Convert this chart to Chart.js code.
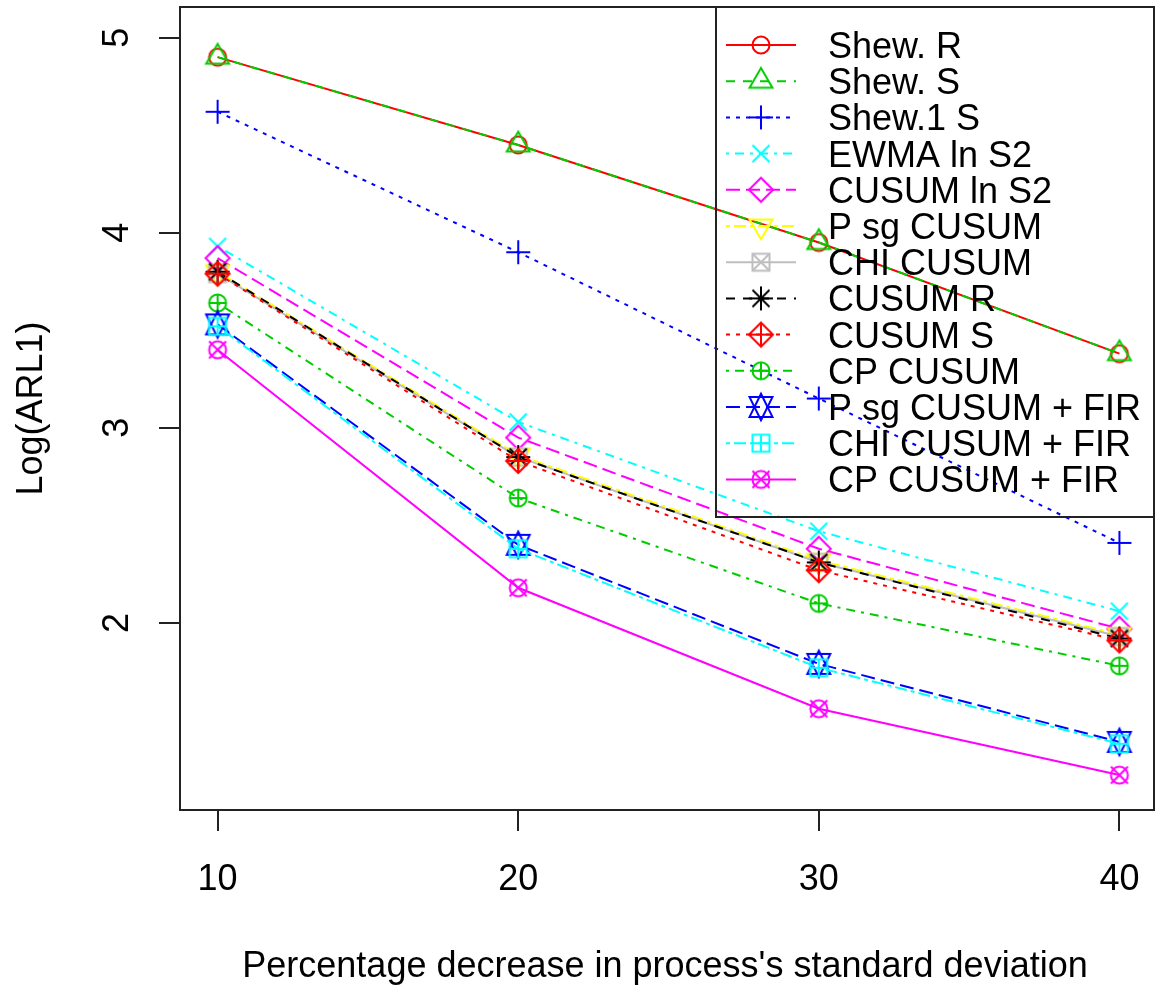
<!DOCTYPE html>
<html>
<head>
<meta charset="utf-8">
<script src="https://cdn.jsdelivr.net/npm/chart.js@4.4.0/dist/chart.umd.min.js"></script>
<style>
  html, body { margin: 0; padding: 0; background: #fff; }
  canvas { display: block; }
</style>
</head>
<body>
<canvas id="chart" width="1155" height="989"></canvas>
<script>
// data
const xValues = [10, 20, 30, 40];
const xTicks = [10, 20, 30, 40];
const yTicks = [2, 3, 4, 5];

const seriesNames = [
  "Shew. R", "Shew. S", "Shew.1 S", "EWMA ln S2", "CUSUM ln S2", "P sg CUSUM",
  "CHI CUSUM", "CUSUM R", "CUSUM S", "CP CUSUM", "P sg CUSUM + FIR",
  "CHI CUSUM + FIR", "CP CUSUM + FIR"
];

const shewR = [4.90, 4.45, 3.95, 3.38];
const shewS = [4.90, 4.45, 3.95, 3.38];
const shew1S = [4.62, 3.90, 3.15, 2.41];
const ewmaLnS2 = [3.93, 3.03, 2.47, 2.06];
const cusumLnS2 = [3.87, 2.95, 2.38, 1.97];
const psgCusum = [3.80, 2.86, 2.32, 1.94];
const chiCusum = [3.79, 2.85, 2.31, 1.93];
const cusumR = [3.80, 2.85, 2.31, 1.92];
const cusumS = [3.79, 2.83, 2.27, 1.91];
const cpCusum = [3.64, 2.64, 2.10, 1.78];
const psgCusumFir = [3.53, 2.40, 1.79, 1.39];
const chiCusumFir = [3.52, 2.38, 1.77, 1.38];
const cpCusumFir = [3.40, 2.18, 1.56, 1.22];

const seriesValues = [
  shewR, shewS, shew1S, ewmaLnS2, cusumLnS2, psgCusum, chiCusum,
  cusumR, cusumS, cpCusum, psgCusumFir, chiCusumFir, cpCusumFir
];

// R-style look: colours 2..8,1.. recycled, pch 1..13, lty 1..6 recycled
const palette = ["#000000", "#FF0000", "#00CD00", "#0000FF", "#00FFFF", "#FF00FF", "#FFFF00", "#BEBEBE"];
const dashes = { 1: [], 2: [9, 8], 3: [4, 6], 4: [3, 6, 9, 6], 5: [14, 6], 6: [4, 4, 12, 4] };

const FONT = '36px "Liberation Sans", Arial, sans-serif';

function makeSymbol(pch, color) {
  const r = 8.5, size = 34;
  const cv = document.createElement("canvas");
  cv.width = cv.height = size;
  const g = cv.getContext("2d");
  g.strokeStyle = color;
  g.lineWidth = 2;
  g.translate(size / 2, size / 2);
  const line = (x1, y1, x2, y2) => { g.beginPath(); g.moveTo(x1, y1); g.lineTo(x2, y2); g.stroke(); };
  const circle = rad => { g.beginPath(); g.arc(0, 0, rad, 0, 2 * Math.PI); g.stroke(); };
  const poly = pts => {
    g.beginPath();
    pts.forEach((p, i) => i ? g.lineTo(p[0], p[1]) : g.moveTo(p[0], p[1]));
    g.closePath(); g.stroke();
  };
  const plus = e => { line(-e, 0, e, 0); line(0, -e, 0, e); };
  const cross = e => { line(-e, -e, e, e); line(-e, e, e, -e); };
  const TRC0 = Math.sqrt(4 * Math.PI / (3 * Math.sqrt(3))), TRC1 = Math.sqrt(3) / 2, TRC2 = 0.5;
  const d = Math.SQRT2 * r;
  switch (pch) {
    case 1: circle(r); break;
    case 2: { const xc = TRC0 * r, rr = TRC1 * xc, yc = TRC2 * xc; poly([[0, -xc], [rr, yc], [-rr, yc]]); break; }
    case 3: plus(d); break;
    case 4: cross(r); break;
    case 5: poly([[-d, 0], [0, -d], [d, 0], [0, d]]); break;
    case 6: { const xc = TRC0 * r, rr = TRC1 * xc, yc = TRC2 * xc; poly([[0, xc], [rr, -yc], [-rr, -yc]]); break; }
    case 7: g.strokeRect(-r, -r, 2 * r, 2 * r); cross(r); break;
    case 8: cross(r); plus(d); break;
    case 9: plus(d); poly([[-d, 0], [0, -d], [d, 0], [0, d]]); break;
    case 10: circle(r); plus(r); break;
    case 11: {
      const rr = TRC0 * r;
      const yc = 0.5 * (TRC2 * rr + rr), xc = TRC1 * rr;
      poly([[0, -rr], [xc, yc], [-xc, yc]]);
      poly([[0, rr], [xc, -yc], [-xc, -yc]]);
      break;
    }
    case 12: g.strokeRect(-r, -r, 2 * r, 2 * r); plus(r); break;
    case 13: circle(r); cross(r); break;
  }
  return cv;
}

const series = seriesNames.map((name, i) => {
  const color = palette[(i + 1) % 8];
  const lty = (i % 6) + 1;
  return { name, values: seriesValues[i], color, lty, symbol: makeSymbol(i + 1, color) };
});

const rStyle = {
  id: "rStyle",
  afterDraw(chart) {
    const ctx = chart.ctx;
    const a = chart.chartArea;
    const xs = chart.scales.x, ys = chart.scales.y;
    ctx.save();
    ctx.strokeStyle = "#222";
    ctx.lineWidth = 2;
    ctx.strokeRect(a.left, a.top, a.right - a.left, a.bottom - a.top);

    ctx.fillStyle = "#000";
    ctx.font = FONT;
    // x tick labels
    ctx.textAlign = "center";
    ctx.textBaseline = "alphabetic";
    xTicks.forEach(v => ctx.fillText(String(v), xs.getPixelForValue(v), 890));
    // x title
    ctx.fillText("Percentage decrease in process's standard deviation", (a.left + a.right) / 2 - 2, 977);
    // y tick labels, rotated like R
    yTicks.forEach(v => {
      ctx.save();
      ctx.translate(128, ys.getPixelForValue(v));
      ctx.rotate(-Math.PI / 2);
      ctx.fillText(String(v), 0, 0);
      ctx.restore();
    });
    ctx.save();
    ctx.translate(42, (a.top + a.bottom) / 2);
    ctx.rotate(-Math.PI / 2);
    ctx.fillText("Log(ARL1)", 0, 0);
    ctx.restore();

    // legend box (transparent, lines show through)
    const lx = 716, ly = a.top, lw = a.right - 716, lh = 517 - a.top;
    ctx.strokeRect(lx, ly, lw, lh);
    ctx.textAlign = "left";
    series.forEach((s, i) => {
      const rowY = 45 + i * 36.2;
      ctx.save();
      ctx.strokeStyle = s.color;
      ctx.lineWidth = 2;
      ctx.setLineDash(dashes[s.lty]);
      ctx.beginPath();
      ctx.moveTo(726, rowY);
      ctx.lineTo(796, rowY);
      ctx.stroke();
      ctx.restore();
      ctx.drawImage(s.symbol, 761 - s.symbol.width / 2, rowY - s.symbol.height / 2);
      ctx.fillStyle = "#000";
      ctx.fillText(s.name, 828, rowY + 13);
    });
    ctx.restore();
  }
};

new Chart(document.getElementById("chart"), {
  type: "line",
  data: {
    datasets: series.map((s, i) => ({
      label: s.name,
      data: xValues.map((x, j) => ({ x, y: s.values[j] })),
      borderColor: s.color,
      backgroundColor: s.color,
      borderWidth: 2,
      borderDash: dashes[s.lty],
      pointStyle: s.symbol,
      pointRadius: 10,
      pointHoverRadius: 10,
      fill: false,
      tension: 0,
      clip: false,
      order: seriesNames.length - 1 - i
    }))
  },
  options: {
    responsive: false,
    animation: false,
    devicePixelRatio: 1,
    layout: { autoPadding: false, padding: { top: 7, right: 1, left: 0, bottom: 0 } },
    plugins: { legend: { display: false }, tooltip: { enabled: false } },
    scales: {
      x: {
        type: "linear",
        min: 8.75,
        max: 41.15,
        afterBuildTicks: s => { s.ticks = xTicks.map(v => ({ value: v })); },
        afterFit: s => { s.height = 179; },
        ticks: { display: false },
        border: { display: false },
        grid: { drawOnChartArea: false, color: "#222", lineWidth: 2, tickLength: 21, tickWidth: 2 }
      },
      y: {
        type: "linear",
        min: 1.041,
        max: 5.157,
        afterBuildTicks: s => { s.ticks = yTicks.map(v => ({ value: v })); },
        afterFit: s => { s.width = 180; },
        ticks: { display: false },
        border: { display: false },
        grid: { drawOnChartArea: false, color: "#222", lineWidth: 2, tickLength: 21, tickWidth: 2 }
      }
    }
  },
  plugins: [rStyle]
});
</script>
</body>
</html>
